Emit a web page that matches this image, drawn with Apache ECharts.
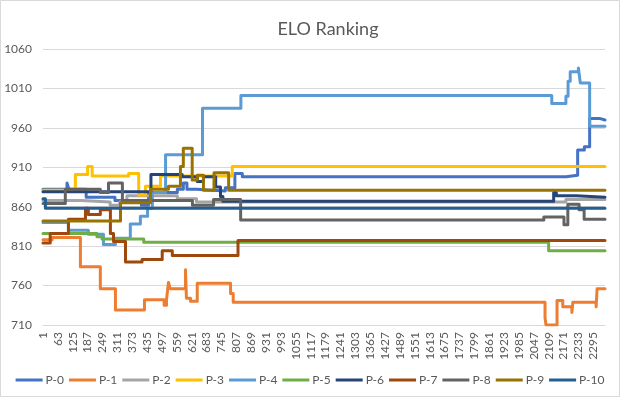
<!DOCTYPE html>
<html>
<head>
<meta charset="utf-8">
<script src="https://cdn.jsdelivr.net/npm/echarts@6/dist/echarts.min.js"></script>
<style>
  html, body { margin: 0; padding: 0; background: #fff; }
  #main { width: 620px; height: 397px; }
</style>
</head>
<body>
<div id="main"></div>
<script>
// game index is 0-based here, axis label shows index + 1 (1, 63, 125 ...)
var lastGame = 2343;
var tickStep = 62;
var yTicks = [710, 760, 810, 860, 910, 960, 1010, 1060];
var names = ['P-0', 'P-1', 'P-2', 'P-3', 'P-4', 'P-5', 'P-6', 'P-7', 'P-8', 'P-9', 'P-10'];

// [game, elo] change points, value holds until the next point
var p0 = [[0,882],[100,890],[108,882],[180,872],[300,868],[410,862],[440,878],[560,882],[585,890],[600,882],[640,880],[760,884],[800,902],[831,898],[2181,900],[2229,932],[2257,936],[2279,972],[2320,970],[2343,970]];
var p1 = [[0,818],[38,821],[156,784],[239,756],[302,729],[423,742],[505,735],[515,742],[523,764],[530,756],[594,780],[598,744],[615,740],[643,763],[782,750],[793,739],[2093,719],[2097,710],[2143,741],[2167,733],[2205,726],[2209,739],[2306,733],[2310,756],[2343,756]];
var p2 = [[0,868],[160,866],[280,862],[320,866],[350,874],[560,870],[640,866],[2150,866],[2180,869],[2343,869]];
var p3 = [[0,881],[135,901],[186,911],[205,899],[357,902],[399,875],[427,886],[490,899],[789,911],[2343,911]];
var p4 = [[0,840],[106,830],[189,825],[252,812],[302,820],[364,838],[406,848],[436,858],[456,878],[511,926],[665,985],[825,1001],[2121,991],[2180,1000],[2189,1019],[2198,1031],[2232,1036],[2240,1017],[2279,962],[2343,962]];
var p5 = [[0,826],[225,822],[246,819],[420,815],[2108,804],[2343,804]];
var p6 = [[0,879],[450,901],[580,898],[643,892],[669,898],[720,885],[740,873],[750,867],[2129,878],[2140,874],[2223,872],[2343,872]];
var p7 = [[0,814],[30,826],[106,844],[177,858],[189,850],[239,856],[281,826],[294,816],[344,790],[413,793],[497,804],[539,798],[813,817],[2343,817]];
var p8 = [[0,864],[93,882],[239,878],[273,890],[331,868],[623,862],[711,869],[824,843],[2088,847],[2172,837],[2188,863],[2235,856],[2256,844],[2343,844]];
var p9 = [[0,842],[323,865],[448,882],[523,886],[573,911],[585,934],[622,894],[643,900],[669,881],[713,903],[774,881],[2343,881]];
var p10 = [[0,870],[10,858],[2343,858]];

var allData = [p0, p1, p2, p3, p4, p5, p6, p7, p8, p9, p10];
var colors = ['#4472C4', '#ED7D31', '#A5A5A5', '#FFC000', '#5B9BD5', '#70AD47',
              '#264478', '#9E480E', '#636363', '#997300', '#255E91'];

var font = 'Lato, "Open Sans", sans-serif';

var chart = echarts.init(document.getElementById('main'), null, { renderer: 'canvas' });

var series = [];
for (var i = 0; i < names.length; i++) {
  series.push({
    name: names[i],
    type: 'line',
    step: 'end',
    showSymbol: false,
    data: allData[i],
    lineStyle: { width: 3, cap: 'round', join: 'round' },
    emphasis: { disabled: true }
  });
}

chart.setOption({
  animation: false,
  color: colors,
  backgroundColor: '#fff',
  graphic: [{
    type: 'rect',
    shape: { x: 0.5, y: 0.5, width: 619, height: 396 },
    style: { fill: 'none', stroke: '#D9D9D9', lineWidth: 1 },
    silent: true
  }],
  title: {
    text: 'ELO Ranking',
    left: 323,
    top: 15,
    textAlign: 'center',
    textStyle: { color: '#595959', fontSize: 18, fontWeight: 'normal', fontFamily: font }
  },
  legend: {
    data: names,
    left: 'center',
    top: 369,
    icon: 'rect',
    itemWidth: 27,
    itemHeight: 3,
    itemGap: 5,
    textStyle: { color: '#595959', fontSize: 12, fontFamily: font, padding: [0, 0, 0, -2] }
  },
  grid: { left: 43, right: 15, top: 49, bottom: 72, containLabel: false },
  xAxis: {
    type: 'value',
    min: 0,
    max: lastGame,
    interval: tickStep,
    axisLine: { show: true, lineStyle: { color: '#D9D9D9', width: 1 } },
    axisTick: { show: false },
    splitLine: { show: false },
    axisLabel: {
      rotate: 90,
      margin: 7,
      color: '#595959',
      fontSize: 12,
      fontFamily: font,
      showMaxLabel: false,
      formatter: function (v) { return v % tickStep === 0 ? String(v + 1) : ''; }
    }
  },
  yAxis: {
    type: 'value',
    min: yTicks[0],
    max: yTicks[yTicks.length - 1],
    interval: 50,
    axisLine: { show: false },
    axisTick: { show: false },
    splitLine: { lineStyle: { color: '#D9D9D9', width: 1 } },
    axisLabel: {
      color: '#595959', fontSize: 12, fontFamily: font, margin: 11,
      formatter: function (v) { return String(v); }
    }
  },
  series: series
});
</script>
</body>
</html>
